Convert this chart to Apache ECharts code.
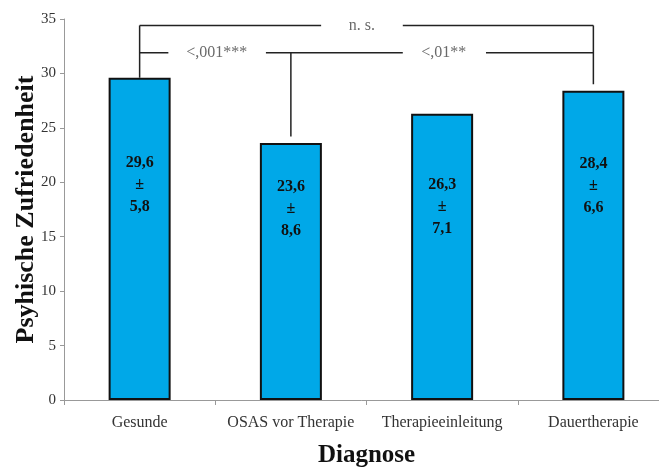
<!DOCTYPE html>
<html>
<head>
<meta charset="utf-8">
<script src="https://cdn.jsdelivr.net/npm/echarts@6/dist/echarts.min.js"></script>
<style>
html,body{margin:0;padding:0;background:#fff;}
#chart{width:659px;height:467px;}
</style>
</head>
<body>
<div id="chart"></div>
<script>
// ---- data ----
var categories = ['Gesunde', 'OSAS vor Therapie', 'Therapieeinleitung', 'Dauertherapie'];
var means = [29.6, 23.6, 26.3, 28.4];
var sds = [5.8, 8.6, 7.1, 6.6];
var yTicks = [0, 5, 10, 15, 20, 25, 30, 35];

// significance brackets (x in category units: category i spans [i, i+1])
var bracketSegments = [
  // top bracket: Gesunde vs Dauertherapie (n. s.)
  [[0.5, 29.6], [0.5, 34.4]],
  [[0.5, 34.4], [1.70, 34.4]],
  [[2.24, 34.4], [3.5, 34.4]],
  [[3.5, 34.4], [3.5, 29.0]],
  // lower bracket
  [[0.5, 31.9], [0.69, 31.9]],
  [[1.335, 31.9], [2.24, 31.9]],
  [[2.79, 31.9], [3.5, 31.9]],
  [[1.5, 31.9], [1.5, 24.2]]
];
var bracketLabels = [
  {text: 'n. s.', x: 1.97, y: 34.4},
  {text: '<,001***', x: 1.01, y: 31.9},
  {text: '<,01**', x: 2.51, y: 31.9}
];

// ---- styles ----
var labelOffsets = [[0, -54], [0, -63], [0, -50], [0, -60]];
var fmt = function (v) { return v.toFixed(1).replace('.', ','); };
var serif = '"Liberation Serif", "Times New Roman", serif';

var barData = means.map(function (m, i) {
  return {
    value: m,
    label: {
      offset: labelOffsets[i],
      formatter: fmt(m) + '\n±\n' + fmt(sds[i])
    }
  };
});

var series = [{
  type: 'bar',
  xAxisIndex: 0,
  yAxisIndex: 0,
  data: barData,
  barWidth: 62,
  itemStyle: {color: '#00a8e8', borderColor: '#111', borderWidth: 2},
  label: {
    show: true,
    position: 'inside',
    fontFamily: serif,
    fontWeight: 'bold',
    fontSize: 16,
    lineHeight: 22,
    color: '#111'
  },
  silent: true
}];

bracketSegments.forEach(function (seg) {
  series.push({
    type: 'line',
    xAxisIndex: 1,
    yAxisIndex: 0,
    data: seg,
    symbol: 'none',
    lineStyle: {color: '#222', width: 1.5},
    silent: true,
    animation: false
  });
});

series.push({
  type: 'scatter',
  xAxisIndex: 1,
  yAxisIndex: 0,
  symbolSize: 0,
  data: bracketLabels.map(function (b) { return {value: [b.x, b.y], name: b.text}; }),
  label: {
    show: true,
    position: 'inside',
    formatter: '{b}',
    fontFamily: serif,
    fontSize: 16,
    color: '#444'
  },
  silent: true
});

var chart = echarts.init(document.getElementById('chart'));
chart.setOption({
  animation: false,
  backgroundColor: '#fff',
  grid: {left: 64, top: 19, width: 605, height: 381, containLabel: false, outerBoundsMode: 'none'},
  xAxis: [{
    type: 'category',
    data: categories,
    name: 'Diagnose',
    nameLocation: 'middle',
    nameGap: 43,
    nameMoveOverlap: false,
    nameTextStyle: {fontFamily: serif, fontWeight: 'bold', fontSize: 25, color: '#111'},
    axisLine: {lineStyle: {color: '#999', width: 1}},
    axisTick: {show: true, length: 5, lineStyle: {color: '#999'}},
    axisLabel: {fontFamily: serif, fontSize: 16, color: '#333', margin: 15, interval: 0}
  }, {
    type: 'value',
    min: 0,
    max: 4,
    show: false
  }],
  yAxis: [{
    type: 'value',
    min: 0,
    max: 35,
    interval: 5,
    name: 'Psyhische Zufriedenheit',
    nameLocation: 'middle',
    nameGap: 25,
    nameRotate: 90,
    nameMoveOverlap: false,
    nameTextStyle: {fontFamily: serif, fontWeight: 'bold', fontSize: 26, color: '#111'},
    axisLine: {show: true, lineStyle: {color: '#999', width: 1}},
    axisTick: {show: true, length: 4, lineStyle: {color: '#999'}},
    axisLabel: {
      fontFamily: serif, fontSize: 15, color: '#333', margin: 8,
      formatter: function (v) { return yTicks.indexOf(v) >= 0 ? String(v) : ''; }
    },
    splitLine: {show: false}
  }],
  series: series
});
</script>
</body>
</html>
